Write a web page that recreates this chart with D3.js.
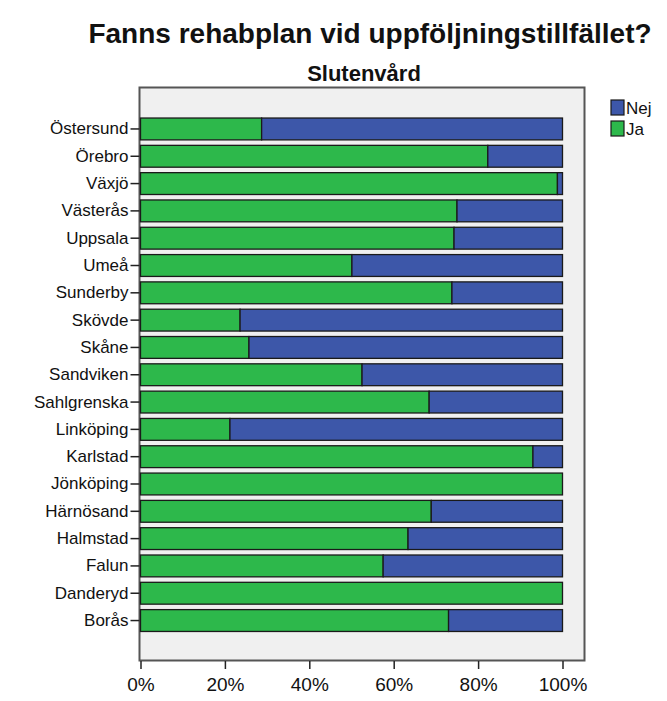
<!DOCTYPE html>
<html>
<head>
<meta charset="utf-8">
<script src="https://cdn.jsdelivr.net/npm/d3@7"></script>
<style>
  body { margin: 0; background: #fff; }
  text { font-family: "Liberation Sans", Arial, sans-serif; fill: #111; }
</style>
</head>
<body>
<svg id="chart" width="667" height="701"></svg>
<script>
// kliniker, uppifrån och ned
var sites = ["Östersund", "Örebro", "Växjö", "Västerås", "Uppsala", "Umeå", "Sunderby",
  "Skövde", "Skåne", "Sandviken", "Sahlgrenska", "Linköping", "Karlstad", "Jönköping",
  "Härnösand", "Halmstad", "Falun", "Danderyd", "Borås"];
// andel "Ja" i procent
var ja = [28.7, 82.3, 98.8, 75.0, 74.3, 50.1, 73.8, 23.6, 25.7, 52.5, 68.4, 21.2, 93.0,
  100, 68.9, 63.4, 57.5, 100, 73.0];
var legendLabels = ["Nej", "Ja"];
var xTicks = [0, 20, 40, 60, 80, 100];

var svg = d3.select("#chart"),
    green = "#2db84b",
    blue = "#3d57a9";

var x = d3.scaleLinear().domain([0, 100]).range([140.5, 562.5]);
var y = d3.scaleBand().domain(sites).range([115.3, 634.2])
    .paddingInner(0.2).paddingOuter(0.1);

// titlar
svg.append("text")
    .attr("x", 370).attr("y", 43)
    .attr("text-anchor", "middle")
    .style("font-size", "28px").style("font-weight", "bold")
    .text("Fanns rehabplan vid uppföljningstillfället?");
svg.append("text")
    .attr("x", 364).attr("y", 81)
    .attr("text-anchor", "middle")
    .style("font-size", "22px").style("font-weight", "bold")
    .text("Slutenvård");

// ram
svg.append("rect")
    .attr("x", 139.5).attr("y", 87.5)
    .attr("width", 445).attr("height", 573)
    .attr("fill", "#f0f0f0")
    .attr("stroke", "#555").attr("stroke-width", 2);

var rows = svg.append("g").selectAll("g")
    .data(sites)
    .join("g");

rows.append("rect")
    .attr("x", x(0))
    .attr("y", function (d) { return y(d); })
    .attr("width", function (d, i) { return x(ja[i]) - x(0); })
    .attr("height", y.bandwidth())
    .attr("fill", green)
    .attr("stroke", "#1a1a1a").attr("stroke-width", 1.3);

rows.filter(function (d, i) { return ja[i] < 100; })
  .append("rect")
    .attr("x", function (d) { return x(ja[sites.indexOf(d)]); })
    .attr("y", function (d) { return y(d); })
    .attr("width", function (d) { return x(100) - x(ja[sites.indexOf(d)]); })
    .attr("height", y.bandwidth())
    .attr("fill", blue)
    .attr("stroke", "#1a1a1a").attr("stroke-width", 1.3);

// axlar
var yAxis = svg.append("g")
    .attr("transform", "translate(139.5,0)")
    .call(d3.axisLeft(y).tickSize(9).tickPadding(2));
yAxis.select(".domain").remove();
yAxis.selectAll("line").attr("stroke", "#222").attr("stroke-width", 1.5);
yAxis.selectAll("text")
    .style("font-size", "17px")
    .style("font-family", "\"Liberation Sans\", Arial, sans-serif")
    .attr("fill", "#111");

var xAxis = svg.append("g")
    .attr("transform", "translate(0,661)")
    .call(d3.axisBottom(x).tickValues(xTicks).tickSize(8).tickPadding(9)
        .tickFormat(function (d) { return d + "%"; }));
xAxis.select(".domain").remove();
xAxis.selectAll("line").attr("stroke", "#222").attr("stroke-width", 1.5);
xAxis.selectAll("text")
    .style("font-size", "19px")
    .style("font-family", "\"Liberation Sans\", Arial, sans-serif")
    .attr("fill", "#111");

// legend
var legend = svg.append("g").selectAll("g")
    .data(legendLabels)
    .join("g")
    .attr("transform", function (d, i) { return "translate(611," + (100 + i * 21) + ")"; });
legend.append("rect")
    .attr("width", 13).attr("height", 15)
    .attr("fill", function (d) { return d == "Nej" ? blue : green; })
    .attr("stroke", "#1a1a1a").attr("stroke-width", 1.2);
legend.append("text")
    .attr("x", 15).attr("y", 14)
    .style("font-size", "17px")
    .text(function (d) { return d; });
</script>
</body>
</html>
